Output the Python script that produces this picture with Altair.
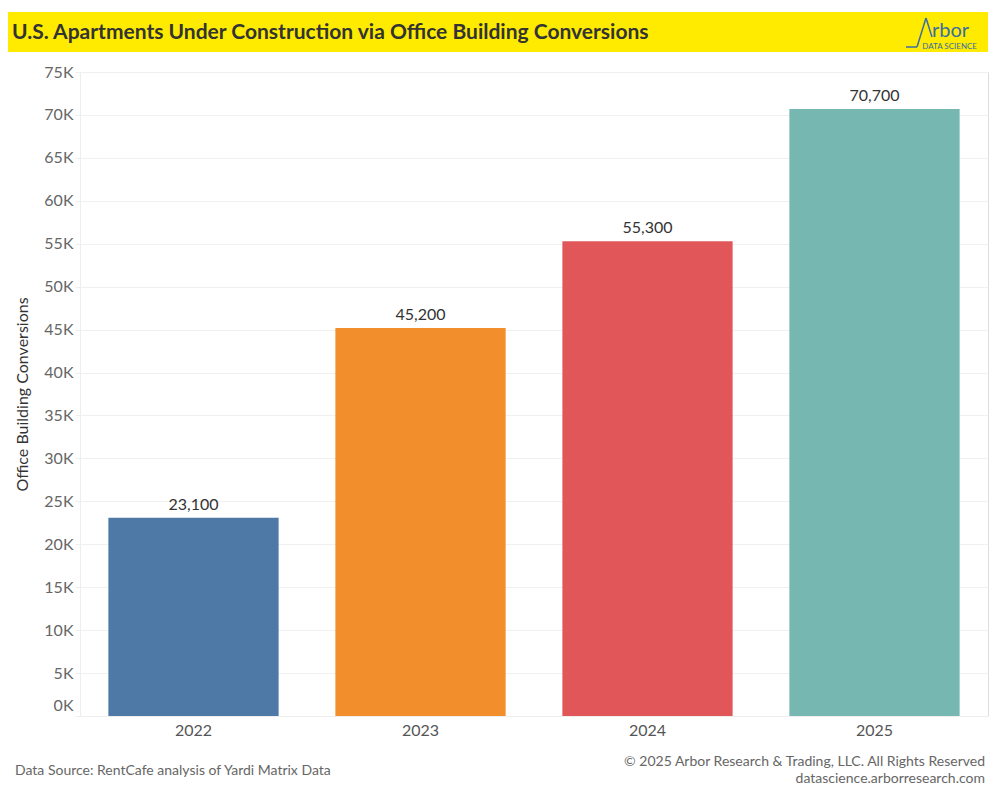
import altair as alt
import pandas as pd

years = ["2022", "2023", "2024", "2025"]
values = [23100, 45200, 55300, 70700]
colors = ["#4e79a7", "#f28e2b", "#e15759", "#76b7b2"]
y_ticks = list(range(0, 75001, 5000))

title_text = "U.S. Apartments Under Construction via Office Building Conversions"
source_text = "Data Source: RentCafe analysis of Yardi Matrix Data"
copyright_text = "© 2025 Arbor Research & Trading, LLC. All Rights Reserved"
site_text = "datascience.arborresearch.com"

df = pd.DataFrame({"year": years, "value": values, "label": [f"{v:,}" for v in values]})

FONT = "Lato"
W, H = 908, 644

x = alt.X("year:N", title=None, sort=years,
          scale=alt.Scale(paddingInner=0.25, paddingOuter=0.125),
          axis=alt.Axis(labelAngle=0, labelFontSize=16, labelColor="#555555", labelFont=FONT,
                        labelPadding=6, ticks=False, domainColor="#eeeeee", grid=False))
y = alt.Y("value:Q", title="Office Building Conversions",
          scale=alt.Scale(domain=[0, 75000], nice=False),
          axis=alt.Axis(values=y_ticks, labelExpr="format(datum.value/1000, 'd') + 'K'",
                        labelFontSize=16, labelColor="#666666", labelFont=FONT, labelPadding=2,
                        labelOffset={"condition": {"test": "datum.value == 0", "value": -11}, "value": 0},
                        tickColor="#eeeeee", tickSize=5, domainColor="#eeeeee",
                        gridColor="#f0f0f0", titleFont=FONT, titleFontSize=16,
                        titleFontWeight="normal", titleColor="#333333", titlePadding=13))

bars = alt.Chart(df).mark_bar().encode(
    x=x, y=y,
    color=alt.Color("year:N", scale=alt.Scale(domain=years, range=colors), legend=None),
)
labels = alt.Chart(df).mark_text(baseline="bottom", dy=-5, fontSize=16, font=FONT, color="#333333").encode(
    x=alt.X("year:N", sort=years), y="value:Q", text="label:N")

deco = pd.DataFrame({"k": [0]})
base = alt.Chart(deco)
banner = base.mark_rect(color="#ffeb00").encode(
    x=alt.value(-72), x2=alt.value(W), y=alt.value(-60), y2=alt.value(-20))
title = base.mark_text(align="left", baseline="middle", font=FONT, fontSize=21, fontWeight="bold",
                       color="#333333", text=title_text).encode(x=alt.value(-68), y=alt.value(-39))
logo_a1 = base.mark_rule(color="#3a6ea5", strokeWidth=1.5).encode(
    x=alt.value(826), x2=alt.value(837), y=alt.value(-25), y2=alt.value(-25))
logo_a2 = base.mark_rule(color="#3a6ea5", strokeWidth=1.5).encode(
    x=alt.value(837), x2=alt.value(846), y=alt.value(-25), y2=alt.value(-54))
logo_a3 = base.mark_rule(color="#3a6ea5", strokeWidth=1.5).encode(
    x=alt.value(846), x2=alt.value(852), y=alt.value(-54), y2=alt.value(-35))
logo_t = base.mark_text(align="left", baseline="alphabetic", font=FONT, fontSize=20,
                        color="#3a6ea5", text="rbor").encode(x=alt.value(852), y=alt.value(-35))
logo_s = base.mark_text(align="right", baseline="alphabetic", font=FONT, fontSize=8,
                        color="#3a6ea5", text="DATA SCIENCE").encode(x=alt.value(897), y=alt.value(-23))
src = base.mark_text(align="left", baseline="middle", font=FONT, fontSize=14,
                     color="#666666", text=source_text).encode(x=alt.value(-65), y=alt.value(699))
cr = base.mark_text(align="right", baseline="middle", font=FONT, fontSize=14,
                    color="#666666", text=copyright_text).encode(x=alt.value(905), y=alt.value(690))
site = base.mark_text(align="right", baseline="middle", font=FONT, fontSize=14,
                      color="#666666", text=site_text).encode(x=alt.value(905), y=alt.value(707))

chart = alt.layer(banner, title, logo_a1, logo_a2, logo_a3, logo_t, logo_s,
                  bars, labels, src, cr, site).properties(
    width=W, height=H,
    autosize=alt.AutoSizeParams(type="none"),
    padding={"left": 72, "top": 64, "right": 4, "bottom": 76},
).configure_view(stroke=None).configure(background="white")

chart.save("out.html", embed_options={"renderer": "svg", "actions": False})
